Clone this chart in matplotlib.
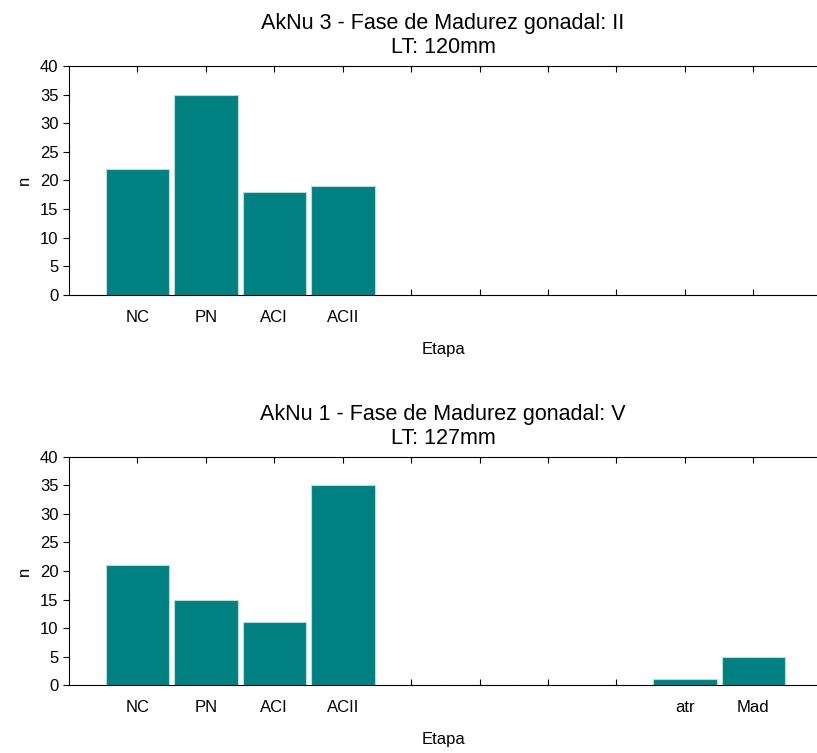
import matplotlib.pyplot as plt
import numpy as np

plt.rcParams["font.family"] = ["Liberation Sans", "DejaVu Sans"]
plt.rcParams["font.size"] = 12

etapas = ["NC", "PN", "ACI", "ACII", "", "", "", "", "atr", "Mad"]

n_aknu3 = [22, 35, 18, 19]
n_aknu1 = [21, 15, 11, 35, 0, 0, 0, 0, 1, 5]

titles = ["AkNu 3 - Fase de Madurez gonadal: II\nLT: 120mm",
          "AkNu 1 - Fase de Madurez gonadal: V\nLT: 127mm"]
labels_top = etapas[:4] + [""] * 6

fig = plt.figure(figsize=(8.17, 7.53), dpi=100)
ax1 = fig.add_axes([0.0845, 0.6082, 0.9155, 0.3042])
ax2 = fig.add_axes([0.0845, 0.0903, 0.9155, 0.3028])

x = np.arange(len(etapas))

for ax, vals, title, ticklabels in [(ax1, n_aknu3, titles[0], labels_top),
                                    (ax2, n_aknu1, titles[1], etapas)]:
    ax.bar(np.arange(len(vals)), vals, width=0.93, color="#008080",
           edgecolor="#b8dcdc", linewidth=0.8, zorder=2)
    ax.set_xlim(-1, 9.93)
    ax.set_ylim(0, 40)
    ax.set_yticks(range(0, 41, 5))
    ax.set_xticks(x)
    ax.set_xticklabels(ticklabels)
    ax.tick_params(axis="x", direction="in", top=True, length=4, pad=11)
    ax.tick_params(axis="y", direction="out", length=4)
    ax.spines["right"].set_visible(False)
    ax.set_title(title, fontsize=15.5, pad=9, linespacing=1.2)
    ax.set_xlabel("Etapa", labelpad=12)
    ax.set_ylabel("n", labelpad=6)

fig.savefig("out.png", dpi=100)
